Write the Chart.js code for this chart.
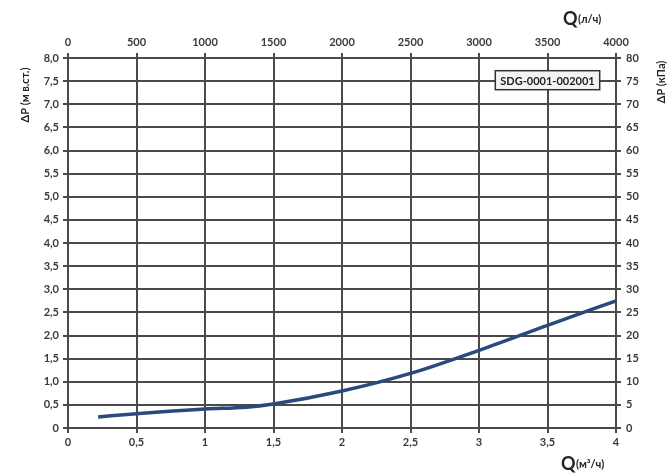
<!DOCTYPE html>
<html>
<head>
<meta charset="utf-8">
<script src="https://cdn.jsdelivr.net/npm/chart.js@4"></script>
<style>
  html, body { margin: 0; padding: 0; background: #fff; }
  #wrap { width: 670px; height: 475px; }
</style>
</head>
<body>
<div id="wrap"><canvas id="dp_chart"></canvas></div>
<script>
  // flow, m3/h  and pressure drop, m w.c.
  const flowM3h = [0.22, 0.5, 1.0, 1.3, 1.5, 2.0, 2.5, 3.0, 3.5, 4.0];
  const dropMwc = [0.24, 0.31, 0.41, 0.45, 0.52, 0.80, 1.18, 1.68, 2.22, 2.75];

  const xTicks = [0, 0.5, 1, 1.5, 2, 2.5, 3, 3.5, 4];
  const topTicks = [0, 500, 1000, 1500, 2000, 2500, 3000, 3500, 4000];
  const yTicks = [0, 0.5, 1, 1.5, 2, 2.5, 3, 3.5, 4, 4.5, 5, 5.5, 6, 6.5, 7, 7.5, 8];
  const rightTicks = [0, 5, 10, 15, 20, 25, 30, 35, 40, 45, 50, 55, 60, 65, 70, 75, 80];

  const modelName = "SDG-0001-002001";
  const modelAt = { x: 3.5, y: 7.52 };

  const FONT = "Lato, 'Open Sans', sans-serif";
  const TXT = "#3a3a3a";
  const GRID = "#4a4a4a";

  const fmt = v => v === 0 ? "0" : String(v).replace(".", ",");
  const fmt1 = v => v === 0 ? "0" : v.toFixed(1).replace(".", ",");

  const points = flowM3h.map((x, i) => ({ x: x, y: dropMwc[i] }));

  // axis titles + model box
  const decor = {
    id: "decor",
    afterDraw(chart) {
      const c = chart.ctx;
      const a = chart.chartArea;
      const sx = chart.scales.x, sy = chart.scales.y;
      c.save();
      c.fillStyle = "#222";
      c.textBaseline = "middle";

      // top title Q(л/ч)
      c.textAlign = "left";
      c.font = "bold 18px " + FONT;
      c.fillText("Q", a.right - 53, 19);
      c.font = "bold 11px " + FONT;
      c.fillText("(л/ч)", a.right - 38, 19);

      // bottom title Q(м³/ч)
      c.font = "bold 18px " + FONT;
      c.fillText("Q", a.right - 55, 464);
      c.font = "bold 11px " + FONT;
      c.fillText("(м³/ч)", a.right - 40, 464);

      // left title
      c.save();
      c.translate(25, 95);
      c.rotate(-Math.PI / 2);
      c.textAlign = "center";
      c.font = "bold 11px " + FONT;
      c.fillText("ΔP (м в.ст.)", 0, 0);
      c.restore();

      // right title
      c.save();
      c.translate(661, 82);
      c.rotate(-Math.PI / 2);
      c.textAlign = "center";
      c.font = "bold 11px " + FONT;
      c.fillText("ΔP (кПа)", 0, 0);
      c.restore();

      // model box
      const bx = sx.getPixelForValue(modelAt.x);
      const by = sy.getPixelForValue(modelAt.y);
      c.font = "bold 11px " + FONT;
      const w = c.measureText(modelName).width + 10;
      const h = 19;
      c.fillStyle = "#f4f4f4";
      c.fillRect(bx - w / 2, by - h / 2, w, h);
      c.strokeStyle = "#333";
      c.lineWidth = 1.5;
      c.strokeRect(bx - w / 2, by - h / 2, w, h);
      c.fillStyle = "#222";
      c.textAlign = "center";
      c.fillText(modelName, bx, by + 1);
      c.restore();
    }
  };

  const tickFont = { family: FONT, size: 11, weight: "bold" };

  new Chart(document.getElementById("dp_chart"), {
    type: "scatter",
    data: {
      datasets: [{
        data: points,
        showLine: true,
        borderColor: "#2b4a7c",
        borderWidth: 3.5,
        pointRadius: 0,
        cubicInterpolationMode: "monotone",
        xAxisID: "x",
        yAxisID: "y"
      }]
    },
    options: {
      responsive: true,
      maintainAspectRatio: false,
      animation: false,
      layout: { padding: 0 },
      plugins: {
        legend: { display: false },
        tooltip: { enabled: false }
      },
      scales: {
        x: {
          type: "linear", position: "bottom", min: 0, max: 4,
          afterBuildTicks: s => { s.ticks = xTicks.map(v => ({ value: v })); },
          afterFit: s => { s.height = 47; },
          grid: { color: GRID, lineWidth: 2, tickLength: 5 },
          border: { color: GRID, width: 2 },
          ticks: { color: TXT, font: tickFont, padding: 3, callback: v => fmt(v), maxRotation: 0 }
        },
        x2: {
          type: "linear", position: "top", min: 0, max: 4000,
          afterBuildTicks: s => { s.ticks = topTicks.map(v => ({ value: v })); },
          afterFit: s => { s.height = 58; },
          grid: { drawOnChartArea: false, color: GRID, lineWidth: 2, tickLength: 5 },
          border: { color: GRID, width: 2 },
          ticks: { color: TXT, font: tickFont, padding: 4, callback: v => String(v), maxRotation: 0 }
        },
        y: {
          type: "linear", position: "left", min: 0, max: 8,
          afterBuildTicks: s => { s.ticks = yTicks.map(v => ({ value: v })); },
          afterFit: s => { s.width = 68; },
          grid: { color: GRID, lineWidth: 2, tickLength: 5 },
          border: { color: GRID, width: 2 },
          ticks: { color: TXT, font: tickFont, padding: 4, callback: v => fmt1(v) }
        },
        y2: {
          type: "linear", position: "right", min: 0, max: 80,
          afterBuildTicks: s => { s.ticks = rightTicks.map(v => ({ value: v })); },
          afterFit: s => { s.width = 54; },
          grid: { drawOnChartArea: false, color: GRID, lineWidth: 2, tickLength: 5 },
          border: { color: GRID, width: 2 },
          ticks: { color: TXT, font: tickFont, padding: 5, callback: v => String(v) }
        }
      }
    },
    plugins: [decor]
  });
</script>
</body>
</html>
